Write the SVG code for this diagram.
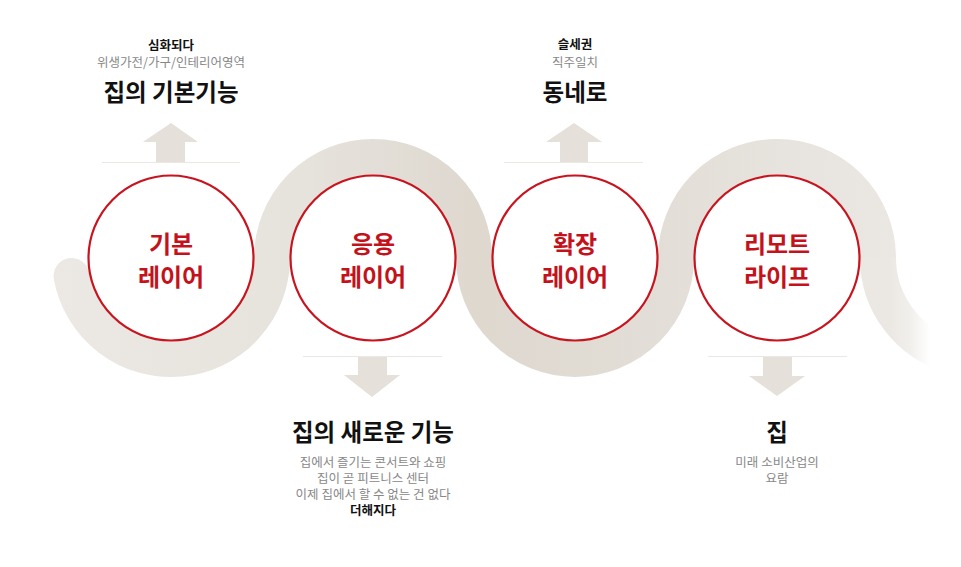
<svg xmlns="http://www.w3.org/2000/svg" width="961" height="567" viewBox="0 0 961 567">
  <defs>
    <linearGradient id="bandGrad" gradientUnits="userSpaceOnUse" x1="52" y1="0" x2="900" y2="0">
      <stop offset="0" stop-color="#ece9e4"/>
      <stop offset="0.3" stop-color="#e6e2dc"/>
      <stop offset="0.5" stop-color="#ded8cf"/>
      <stop offset="0.7" stop-color="#e2ddd6"/>
      <stop offset="1" stop-color="#ebe8e4"/>
    </linearGradient>
    <linearGradient id="fadeGrad" gradientUnits="userSpaceOnUse" x1="890" y1="0" x2="930" y2="0">
      <stop offset="0" stop-color="#ebe8e4"/>
      <stop offset="0.5" stop-color="#f1efec"/>
      <stop offset="1" stop-color="#ffffff"/>
    </linearGradient>
    <style>
      .band { fill: none; stroke-width: 36; }
      .node circle { fill: #ffffff; stroke: #c8141e; stroke-width: 2.2; }
      .lbl { font-family: "Noto Sans CJK KR", "Noto Sans", sans-serif; font-weight: 700; font-size: 24px; fill: #c4121b; text-anchor: middle; }
      .title { font-family: "Noto Sans CJK KR", "Noto Sans", sans-serif; font-weight: 700; font-size: 23.5px; fill: #111111; text-anchor: middle; }
      .sub { font-family: "Noto Sans CJK KR", "Noto Sans", sans-serif; font-weight: 400; font-size: 12.5px; fill: #888888; text-anchor: middle; }
      .subb { font-family: "Noto Sans CJK KR", "Noto Sans", sans-serif; font-weight: 700; font-size: 12.5px; fill: #111111; text-anchor: middle; }
      .arrow { fill: #e5e0d9; }
      .rule { stroke: #ebe7e2; stroke-width: 1; }
    </style>
  </defs>

  <g id="band">
    <path class="band" stroke="url(#bandGrad)" stroke-linecap="round" d="M 71.6 276 A 101 101 0 0 0 272 258 A 101 101 0 0 1 474 258 A 101 101 0 0 0 676 258 A 101 101 0 0 1 878 258"/>
    <path class="band" stroke="url(#fadeGrad)" d="M 878 257.5 A 101 101 0 0 0 953 355.6"/>
  </g>

  <g id="connectors">
    <g id="arrow-up-1">
      <line class="rule" x1="102" y1="162.5" x2="240" y2="162.5"/>
      <polygon class="arrow" points="156,162 156,142 143,142 171,123 198,142 185,142 185,162"/>
    </g>
    <g id="arrow-down-2">
      <line class="rule" x1="303" y1="356.5" x2="442" y2="356.5"/>
      <polygon class="arrow" points="358,357 358,375 344,375 372,397 400,375 387,375 387,357"/>
    </g>
    <g id="arrow-up-3">
      <line class="rule" x1="504" y1="162.5" x2="643" y2="162.5"/>
      <polygon class="arrow" points="560,162 560,142 546,142 574,123 602,142 588,142 588,162"/>
    </g>
    <g id="arrow-down-4">
      <line class="rule" x1="708" y1="356.5" x2="847" y2="356.5"/>
      <polygon class="arrow" points="763,357 763,376 749,376 777,396 805,376 792,376 792,357"/>
    </g>
  </g>

  <g id="node-basic" class="node">
    <circle cx="171" cy="258" r="82.5"/>
    <text class="lbl" x="171" y="253">기본</text>
    <text class="lbl" x="171" y="286">레이어</text>
  </g>
  <g id="node-apply" class="node">
    <circle cx="373" cy="258" r="82.5"/>
    <text class="lbl" x="373" y="253">응용</text>
    <text class="lbl" x="373" y="286">레이어</text>
  </g>
  <g id="node-expand" class="node">
    <circle cx="575" cy="258" r="82.5"/>
    <text class="lbl" x="575" y="253">확장</text>
    <text class="lbl" x="575" y="286">레이어</text>
  </g>
  <g id="node-remote" class="node">
    <circle cx="777" cy="258" r="82.5"/>
    <text class="lbl" x="777" y="253">리모트</text>
    <text class="lbl" x="777" y="286">라이프</text>
  </g>

  <g id="caption-basic">
    <text class="subb" x="171" y="50">심화되다</text>
    <text class="sub" x="171" y="67">위생가전/가구/인테리어영역</text>
    <text class="title" x="171" y="101">집의 기본기능</text>
  </g>
  <g id="caption-expand">
    <text class="subb" x="575" y="49">슬세권</text>
    <text class="sub" x="575" y="67">직주일치</text>
    <text class="title" x="575" y="101">동네로</text>
  </g>
  <g id="caption-apply">
    <text class="title" x="373" y="441">집의 새로운 기능</text>
    <text class="sub" x="373" y="467">집에서 즐기는 콘서트와 쇼핑</text>
    <text class="sub" x="373" y="483">집이 곧 피트니스 센터</text>
    <text class="sub" x="373" y="499">이제 집에서 할 수 없는 건 없다</text>
    <text class="subb" x="373" y="515">더해지다</text>
  </g>
  <g id="caption-remote">
    <text class="title" x="777" y="441">집</text>
    <text class="sub" x="777" y="467">미래 소비산업의</text>
    <text class="sub" x="777" y="483">요람</text>
  </g>
</svg>
